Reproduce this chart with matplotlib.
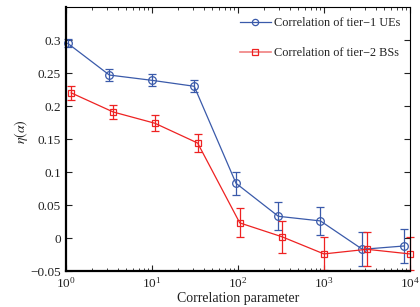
import matplotlib
matplotlib.use("Agg")
import matplotlib.pyplot as plt
from matplotlib.lines import Line2D
import numpy as np

plt.rcParams['font.family'] = ['Liberation Serif', 'DejaVu Serif']
plt.rcParams['mathtext.fontset'] = 'stix'

# data
x_ue = [1.05, 3.2, 10, 31, 95, 295, 910, 2800, 8500]
y_ue = [0.295, 0.247, 0.239, 0.230, 0.083, 0.033, 0.026, -0.017, -0.012]
e_ue = [0.006, 0.009, 0.009, 0.009, 0.017, 0.021, 0.021, 0.026, 0.025]

x_bs = [1.15, 3.55, 10.8, 34, 105, 325, 1000, 3160, 10000]
y_bs = [0.220, 0.191, 0.174, 0.144, 0.023, 0.002, -0.024, -0.017, -0.024]
e_bs = [0.011, 0.011, 0.012, 0.014, 0.022, 0.024, 0.025, 0.026, 0.025]

label_ue = 'Correlation of tier\u22121 UEs'
label_bs = 'Correlation of tier\u22122 BSs'
yticks = [-0.05, 0, 0.05, 0.1, 0.15, 0.2, 0.25, 0.3]
yticklabels = ['\u22120.05', '0', '0.05', '0.1', '0.15', '0.2', '0.25', '0.3']

blue = '#3a5aaa'
red = '#ee2222'

fig = plt.figure(figsize=(4.2, 3.07), dpi=100)
ax = fig.add_axes([0.157, 0.117, 0.819, 0.86])

ax.errorbar(x_ue, y_ue, yerr=e_ue, color=blue, marker='o', ms=5.5, mfc='none',
            mew=0.9, lw=0.9, capsize=3, elinewidth=0.9, capthick=0.9,
            clip_on=False)
ax.errorbar(x_bs, y_bs, yerr=e_bs, color=red, marker='s', ms=5, mfc='none',
            mew=0.9, lw=0.9, capsize=3, elinewidth=0.9, capthick=0.9,
            clip_on=False)

ax.set_xscale('log')
ax.set_xlim(1, 1e4)
ax.set_ylim(-0.05, 0.35)
ax.set_yticks(yticks)
ax.set_yticklabels(yticklabels)
ax.tick_params(which='both', direction='in', top=True, right=True, labelsize=9.5,
               colors='#222222')
ax.tick_params(which='major', length=4)
ax.tick_params(which='minor', length=2)
for s in ['left', 'bottom']:
    ax.spines[s].set_linewidth(1.6)
for s in ['top', 'right']:
    ax.spines[s].set_linewidth(0.8)

ax.set_xlabel('Correlation parameter', fontsize=10, labelpad=1, color='#222222')
ax.set_ylabel(r'$\eta(\alpha)$', fontsize=10, color='#222222')
ax.yaxis.set_label_coords(-0.105, 0.53)

handles = [
    Line2D([], [], color=blue, lw=0.9, marker='o', ms=4.5, mfc='none', mew=0.9),
    Line2D([], [], color='#f08080', lw=1.2, marker='s', ms=4.5, mfc='none',
           mec=red, mew=0.9),
]
leg = ax.legend(handles, [label_ue, label_bs], loc='upper right', frameon=False,
                fontsize=8.8, handlelength=2.5, borderaxespad=0.4,
                labelspacing=1.5, handletextpad=0.25)
for t in leg.get_texts():
    t.set_color('#222222')

fig.savefig('out.png', dpi=100)
